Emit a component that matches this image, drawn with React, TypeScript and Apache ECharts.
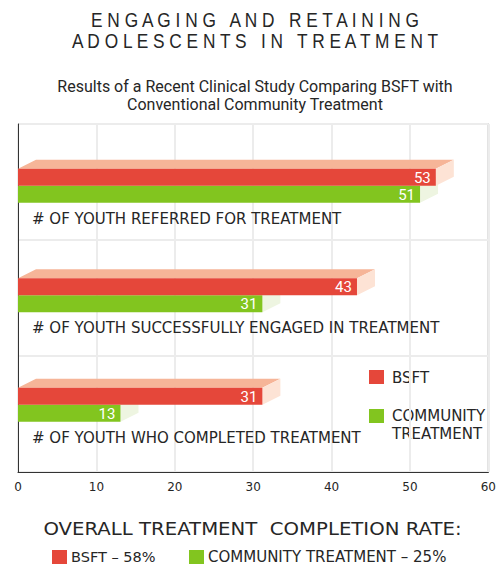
import React, { useEffect, useRef } from 'react';
import * as echarts from 'echarts';

const categories = [
  '# OF YOUTH REFERRED FOR TREATMENT',
  '# OF YOUTH SUCCESSFULLY ENGAGED IN TREATMENT',
  '# OF YOUTH WHO COMPLETED TREATMENT',
];
const bsftValues = [53, 43, 31];
const communityValues = [51, 31, 13];
const seriesNames = ['BSFT', 'COMMUNITY TREATMENT'];
const completionRates = [58, 25];
const titleLines = ['ENGAGING AND RETAINING', 'ADOLESCENTS IN TREATMENT'];
const subtitleLines = [
  'Results of a Recent Clinical Study Comparing BSFT with',
  'Conventional Community Treatment',
];
const summaryTitle = 'OVERALL TREATMENT  COMPLETION RATE:';
const xMin = 0;
const xMax = 60;
const xInterval = 10;

const RED = '#e5473a';
const GREEN = '#82c51f';
const RED_TOP = '#f6b598';
const RED_SIDE = '#fde3d5';
const GREEN_TOP = '#eef5e1';
const GREEN_SIDE = '#eef5e1';
const TEXT = '#262626';

const spaced = (s: string) =>
  s
    .split(' ')
    .map((w) => w.split('').join(' '))
    .join('   ');

function makeBarRenderer(front: string, topC: string, side: string, below: boolean) {
  return (params: any, api: any) => {
    const v = api.value(0);
    const c = api.value(1);
    const start = api.coord([0, c]);
    const end = api.coord([v, c]);
    const x0 = start[0];
    const x1 = end[0];
    const cy = start[1];
    const h = 17;
    const dx = 18;
    const dy = 9;
    const top = below ? cy : cy - h;
    return {
      type: 'group',
      children: [
        {
          type: 'polygon',
          shape: { points: [[x0, top], [x0 + dx, top - dy], [x1 + dx, top - dy], [x1, top]] },
          style: { fill: topC },
        },
        {
          type: 'polygon',
          shape: { points: [[x1, top], [x1 + dx, top - dy], [x1 + dx, top + h - dy], [x1, top + h]] },
          style: { fill: side },
        },
        {
          type: 'rect',
          shape: { x: x0, y: top, width: x1 - x0, height: h },
          style: { fill: front },
        },
        {
          type: 'text',
          x: x1 - 5,
          y: top + h / 2 + 0.5,
          style: {
            text: String(v),
            fill: '#fff',
            fontSize: 15,
            fontFamily: 'Roboto',
            align: 'right',
            textAlign: 'right',
            verticalAlign: 'middle',
            textVerticalAlign: 'middle',
          },
        },
      ],
    };
  };
}

export default function App() {
  const ref = useRef<HTMLDivElement>(null);

  useEffect(() => {
    if (!ref.current) return;
    const chart = echarts.init(ref.current, undefined, { renderer: 'svg' });

    const textStyle = (extra: any) => ({
      fill: TEXT,
      ...extra,
    });

    const graphics: any[] = [
      ...titleLines.map((t, i) => ({
        type: 'text',
        x: 255,
        y: 20 + i * 21,
        scaleX: 0.865,
        style: textStyle({
          text: spaced(t),
          fontSize: 20,
          fontFamily: 'Liberation Sans',
          align: 'center',
          verticalAlign: 'middle',
        }),
      })),
      ...subtitleLines.map((t, i) => ({
        type: 'text',
        x: 255,
        y: 86.5 + i * 18,
        style: textStyle({
          text: t,
          fontSize: 16,
          fontFamily: 'Roboto',
          align: 'center',
          verticalAlign: 'middle',
        }),
      })),
      { type: 'rect', shape: { x: 369, y: 370, width: 15, height: 14 }, style: { fill: RED } },
      {
        type: 'text',
        x: 392,
        y: 377.5,
        style: textStyle({
          text: seriesNames[0],
          fontSize: 15,
          fontFamily: 'DejaVu Sans',
          align: 'left',
          verticalAlign: 'middle',
        }),
      },
      { type: 'rect', shape: { x: 369, y: 409, width: 15, height: 14 }, style: { fill: GREEN } },
      {
        type: 'text',
        x: 392,
        y: 407,
        style: textStyle({
          text: seriesNames[1].replace(' ', '\n'),
          fontSize: 15,
          lineHeight: 18,
          fontFamily: 'DejaVu Sans',
          align: 'left',
          verticalAlign: 'top',
        }),
      },
      {
        type: 'text',
        x: 252.5,
        y: 528.5,
        scaleX: 1.094,
        style: textStyle({
          text: summaryTitle,
          fontSize: 18,
          fontFamily: 'DejaVu Sans',
          align: 'center',
          verticalAlign: 'middle',
        }),
      },
      { type: 'rect', shape: { x: 52, y: 550, width: 15, height: 14 }, style: { fill: RED } },
      {
        type: 'text',
        x: 71,
        y: 557,
        style: textStyle({
          text: `${seriesNames[0]} – ${completionRates[0]}%`,
          fontSize: 14.5,
          fontFamily: 'DejaVu Sans',
          align: 'left',
          verticalAlign: 'middle',
        }),
      },
      { type: 'rect', shape: { x: 189, y: 550, width: 15, height: 14 }, style: { fill: GREEN } },
      {
        type: 'text',
        x: 208,
        y: 557,
        style: textStyle({
          text: `${seriesNames[1]} – ${completionRates[1]}%`,
          fontSize: 15,
          fontFamily: 'DejaVu Sans',
          align: 'left',
          verticalAlign: 'middle',
        }),
      },
    ];

    chart.setOption({
      animation: false,
      backgroundColor: '#fff',
      grid: [
        {
          left: 18,
          right: 8,
          top: 124,
          bottom: 109,
          show: true,
          borderColor: '#333',
          borderWidth: 1,
          backgroundColor: 'transparent',
        },
        { left: 18, right: 8, top: 131, bottom: 121.5 },
      ],
      xAxis: [
        {
          type: 'value',
          gridIndex: 0,
          min: xMin,
          max: xMax,
          interval: xInterval,
          axisLine: { show: true, lineStyle: { color: '#333' } },
          axisTick: { show: false },
          splitLine: { show: true, lineStyle: { color: '#ececec', width: 2 } },
          axisLabel: { color: TEXT, fontSize: 12, fontFamily: 'DejaVu Sans', margin: 9 },
        },
        {
          type: 'value',
          gridIndex: 1,
          min: xMin,
          max: xMax,
          show: false,
        },
      ],
      yAxis: [
        {
          type: 'category',
          gridIndex: 0,
          data: categories,
          inverse: true,
          axisLine: { show: true, lineStyle: { color: '#333' } },
          axisTick: { show: false },
          axisLabel: { show: false },
          splitLine: { show: true, lineStyle: { color: '#ececec', width: 2 } },
        },
        {
          type: 'category',
          gridIndex: 1,
          data: categories,
          inverse: true,
          show: false,
        },
      ],
      series: [
        {
          type: 'custom',
          name: seriesNames[1],
          xAxisIndex: 1,
          yAxisIndex: 1,
          renderItem: makeBarRenderer(GREEN, GREEN_TOP, GREEN_SIDE, true),
          data: communityValues.map((v, i) => [v, categories[i]]),
          encode: { x: 0, y: 1 },
          z: 2,
        },
        {
          type: 'custom',
          name: seriesNames[0],
          xAxisIndex: 1,
          yAxisIndex: 1,
          renderItem: makeBarRenderer(RED, RED_TOP, RED_SIDE, false),
          data: bsftValues.map((v, i) => [v, categories[i]]),
          encode: { x: 0, y: 1 },
          z: 3,
        },
        {
          type: 'custom',
          name: 'labels',
          xAxisIndex: 1,
          yAxisIndex: 1,
          renderItem: (params: any, api: any) => {
            const idx = api.value(1);
            const p = api.coord([0, idx]);
            return {
              type: 'text',
              x: p[0] + 14,
              y: p[1] + 33,
              style: {
                text: categories[idx],
                fill: TEXT,
                fontSize: 15,
                fontFamily: 'DejaVu Sans',
                align: 'left',
                textAlign: 'left',
                verticalAlign: 'middle',
                textVerticalAlign: 'middle',
              },
            };
          },
          data: categories.map((c) => [0, c]),
          encode: { x: 0, y: 1 },
          z: 4,
        },
      ],
      graphic: graphics,
    });

    return () => chart.dispose();
  }, []);

  return (
    <div
      ref={ref}
      style={{ position: 'absolute', left: 0, top: 0, width: 499, height: 581 }}
    />
  );
}
